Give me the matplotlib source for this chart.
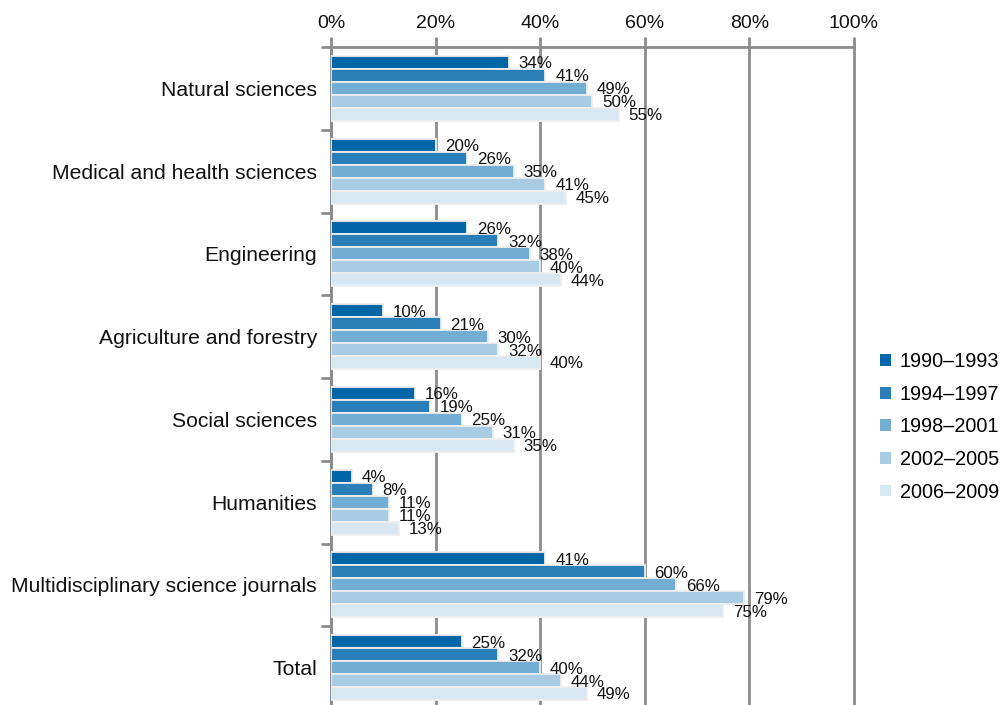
import matplotlib
matplotlib.use("Agg")
import matplotlib.pyplot as plt
from matplotlib.patches import Rectangle
import numpy as np

plt.rcParams['font.family'] = ['Liberation Sans', 'DejaVu Sans']

categories = ["Natural sciences", "Medical and health sciences", "Engineering",
              "Agriculture and forestry", "Social sciences", "Humanities",
              "Multidisciplinary science journals", "Total"]
periods = ["1990\u20131993", "1994\u20131997", "1998\u20132001", "2002\u20132005", "2006\u20132009"]
values = {
    "1990\u20131993": [34, 20, 26, 10, 16, 4, 41, 25],
    "1994\u20131997": [41, 26, 32, 21, 19, 8, 60, 32],
    "1998\u20132001": [49, 35, 38, 30, 25, 11, 66, 40],
    "2002\u20132005": [50, 41, 40, 32, 31, 11, 79, 44],
    "2006\u20132009": [55, 45, 44, 40, 35, 13, 75, 49],
}
colors = ["#0066a8", "#2a7fb8", "#72aed3", "#a8cce3", "#d8e8f2"]
xticks = [0, 20, 40, 60, 80, 100]
xticklabels = ["0%", "20%", "40%", "60%", "80%", "100%"]

W, H = 1004, 705
fig = plt.figure(figsize=(W / 100, H / 100), dpi=100)
ax = fig.add_axes([331 / W, 1 - 709 / H, 523 / W, 662 / H])

grid_c = "#8c8c8c"
bh = 0.157
n = len(categories)
y = np.arange(n)
for j, p in enumerate(periods):
    pos = y + (j - 2) * bh
    ax.barh(pos, values[p], height=bh, color=colors[j], edgecolor="#eeeeee",
            linewidth=1.3, zorder=3)
    for yy, v in zip(pos, values[p]):
        ax.annotate(f"{v}%", (v, yy), xytext=(7, -1), textcoords="offset points",
                    va="center", ha="left", fontsize=12.2, color="#111111", zorder=4)

ax.set_xlim(0, 100)
ax.set_ylim(n - 0.5, -0.5)
ax.xaxis.tick_top()
ax.set_xticks(xticks)
ax.set_xticklabels(xticklabels, fontsize=14, color="#111111")
ax.tick_params(axis="x", length=7, width=2, color=grid_c, pad=4)
ax.grid(axis="x", color=grid_c, linewidth=2, zorder=0)
for gl in ax.xaxis.get_gridlines():
    gl.set_clip_on(False)

ax.set_yticks(y)
ax.set_yticklabels(categories, fontsize=15.2, color="#111111")
ax.set_yticks(np.arange(-0.5, n, 1.0), minor=True)
ax.tick_params(axis="y", which="major", length=0, pad=10)
ax.tick_params(axis="y", which="minor", length=7, width=2, color=grid_c)

for s in ["right", "bottom"]:
    ax.spines[s].set_visible(False)
for s in ["left", "top"]:
    ax.spines[s].set_color(grid_c)
    ax.spines[s].set_linewidth(2)

handles = [Rectangle((0, 0), 1, 1, facecolor=c, edgecolor="none") for c in colors]
fig.legend(handles, periods, loc="center left", bbox_to_anchor=(872 / W, 1 - 427 / H),
           frameon=False, fontsize=14.3, handlelength=0.55, handleheight=0.55,
           labelspacing=0.68, handletextpad=0.45, borderaxespad=0)

fig.savefig("out.png", dpi=100)
